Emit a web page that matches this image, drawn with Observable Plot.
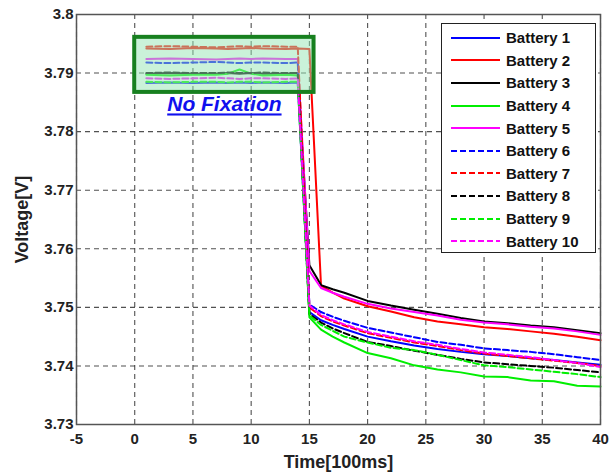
<!DOCTYPE html>
<html>
<head>
<meta charset="utf-8">
<script src="https://cdn.jsdelivr.net/npm/d3@7"></script>
<script src="https://cdn.jsdelivr.net/npm/@observablehq/plot@0.6"></script>
<style>
  body { margin: 0; background: #fff; }
  #wrap { position: relative; width: 613px; height: 472px; font-family: "Liberation Sans", Arial, sans-serif; }
  #legend { position: absolute; left: 441px; top: 23px; width: 155px; height: 230px; box-sizing: border-box;
            border: 1.2px solid #222; background: #fff; }
  .lrow { position: absolute; left: 0; height: 20px; display: flex; align-items: center; }
  .lrow span { font-weight: bold; font-size: 15px; color: #111; margin-left: 6px; }
</style>
</head>
<body>
<div id="wrap"></div>
<script>
// ---- data ----
const batteries = ["Battery 1","Battery 2","Battery 3","Battery 4","Battery 5","Battery 6","Battery 7","Battery 8","Battery 9","Battery 10"];
const colors = ["#0000ff","#ff0000","#000000","#00ee00","#ff00ff","#0000ff","#ff0000","#000000","#00ee00","#ff00ff"];
const dashed = [false,false,false,false,false,true,true,true,true,true];
const times = [1,3,5,7,8,9,10,11,13,14,15,16,17,18,20,22,24,26,28,30,32,34,36,38,40];

const battery1  = [3.7883,3.7884,3.7883,3.7884,3.7883,3.7884,3.7883,3.7884,3.7883,3.7884, 3.7492,3.7478,3.7470,3.7463,3.7450,3.7442,3.7435,3.7429,3.7424,3.7420,3.7417,3.7413,3.7410,3.7406,3.7402];
const battery2  = [3.7942,3.7941,3.7943,3.7942,3.7941,3.7942,3.7943,3.7942,3.7941,3.7942, 3.7941,3.7537,3.7525,3.7515,3.7502,3.7493,3.7483,3.7476,3.7471,3.7466,3.7463,3.7459,3.7455,3.7450,3.7444];
const battery3  = [3.7899,3.7900,3.7899,3.7899,3.7900,3.7899,3.7900,3.7899,3.7899,3.7900, 3.7572,3.7538,3.7531,3.7525,3.7511,3.7503,3.7496,3.7489,3.7482,3.7476,3.7473,3.7469,3.7466,3.7461,3.7456];
const battery4  = [3.7897,3.7896,3.7897,3.7897,3.7899,3.7906,3.7899,3.7896,3.7897,3.7896, 3.7483,3.7462,3.7450,3.7440,3.7422,3.7413,3.7401,3.7394,3.7389,3.7382,3.7381,3.7375,3.7374,3.7366,3.7365];
const battery5  = [3.7924,3.7925,3.7924,3.7923,3.7924,3.7925,3.7924,3.7925,3.7924,3.7924, 3.7562,3.7533,3.7525,3.7518,3.7506,3.7498,3.7492,3.7486,3.7479,3.7474,3.7471,3.7467,3.7464,3.7459,3.7453];
const battery6  = [3.7918,3.7917,3.7918,3.7919,3.7918,3.7917,3.7918,3.7918,3.7917,3.7918, 3.7505,3.7492,3.7484,3.7477,3.7465,3.7457,3.7449,3.7441,3.7436,3.7430,3.7427,3.7424,3.7420,3.7415,3.7410];
const battery7  = [3.7945,3.7946,3.7945,3.7944,3.7945,3.7946,3.7945,3.7946,3.7945,3.7945, 3.7500,3.7485,3.7476,3.7469,3.7456,3.7448,3.7440,3.7434,3.7427,3.7421,3.7417,3.7413,3.7409,3.7405,3.7400];
const battery8  = [3.7900,3.7901,3.7900,3.7900,3.7901,3.7900,3.7900,3.7901,3.7900,3.7900, 3.7489,3.7474,3.7464,3.7456,3.7441,3.7434,3.7426,3.7419,3.7412,3.7406,3.7403,3.7400,3.7397,3.7393,3.7389];
const battery9  = [3.7885,3.7884,3.7885,3.7885,3.7884,3.7885,3.7885,3.7884,3.7885,3.7885, 3.7486,3.7470,3.7460,3.7450,3.7440,3.7431,3.7427,3.7419,3.7410,3.7401,3.7398,3.7394,3.7390,3.7386,3.7381];
const battery10 = [3.7891,3.7890,3.7891,3.7892,3.7891,3.7890,3.7891,3.7891,3.7890,3.7891, 3.7503,3.7487,3.7478,3.7471,3.7458,3.7450,3.7442,3.7436,3.7429,3.7423,3.7419,3.7415,3.7410,3.7405,3.7398];
const series = [battery1,battery2,battery3,battery4,battery5,battery6,battery7,battery8,battery9,battery10];

const xTicks = [-5,0,5,10,15,20,25,30,35,40];
const xTickLabels = ["-5","0","5","10","15","20","25","30","35","40"];
const yTicks = [3.73,3.74,3.75,3.76,3.77,3.78,3.79,3.8];
const yTickLabels = ["3.73","3.74","3.75","3.76","3.77","3.78","3.79","3.8"];

// annotation box (data coordinates) and its label
const boxX = [0, 15.4];
const boxY = [3.7867, 3.7961];
const noteLabel = ["No Fixation"];
const notePos = [7.7, 3.7846];

// ---- build ----
const rows = batteries.map((b, i) => times.map((t, k) => ({battery: b, t, v: series[i][k]})));

const lineMarks = rows.map((r, i) => Plot.line(r, {
  x: "t", y: "v", stroke: colors[i], strokeWidth: 2,
  strokeDasharray: dashed[i] ? "6,3" : null
}));

const chart = Plot.plot({
  width: 613, height: 472,
  marginLeft: 76, marginRight: 13, marginTop: 14, marginBottom: 48,
  style: {fontFamily: "'Liberation Sans', Arial, sans-serif", background: "#fff"},
  x: {domain: [-5, 40]},
  y: {domain: [3.73, 3.8]},
  marks: [
    Plot.gridX(xTicks, {stroke: "#333", strokeOpacity: 0.85, strokeWidth: 1.1, strokeDasharray: "5,4"}),
    Plot.gridY(yTicks, {stroke: "#333", strokeOpacity: 0.85, strokeWidth: 1.1, strokeDasharray: "5,4"}),
    ...lineMarks,
    Plot.rect([{x1: boxX[0], x2: boxX[1], y1: boxY[0], y2: boxY[1]}], {
      x1: "x1", x2: "x2", y1: "y1", y2: "y2",
      fill: "#96e6b4", fillOpacity: 0.5, stroke: "#17801f", strokeWidth: 4
    }),
    Plot.text(noteLabel, {x: () => notePos[0], y: () => notePos[1], text: d => d,
      fill: "#1010ee", fontSize: 21, fontWeight: "bold", fontStyle: "italic"}),
    Plot.frame({stroke: "#555", strokeWidth: 1.5}),
    Plot.axisX(xTicks, {tickSize: 0, tickPadding: 9, fontSize: 15, fontWeight: "bold", fill: "#222", label: null,
      tickFormat: d => xTickLabels[xTicks.indexOf(d)]}),
    Plot.axisY(yTicks, {tickSize: 0, tickPadding: 3, fontSize: 15, fontWeight: "bold", fill: "#222", label: null,
      tickFormat: d => yTickLabels[yTicks.indexOf(d)]}),
    Plot.text(["Time[100ms]"], {frameAnchor: "bottom", dy: 38, fontSize: 18, fontWeight: "bold", fill: "#222",
      textAnchor: "middle", lineAnchor: "middle"}),
    Plot.text(["Voltage[V]"], {frameAnchor: "left", dx: -54, rotate: -90, fontSize: 18, fontWeight: "bold", fill: "#222",
      textAnchor: "middle", lineAnchor: "middle"})
  ]
});

// underline the note
d3.select(chart).selectAll("text").filter(function() { return this.textContent === "No Fixation"; })
  .attr("text-decoration", "underline");

const wrap = document.getElementById("wrap");
wrap.appendChild(chart);

// legend
const legend = document.createElement("div");
legend.id = "legend";
batteries.forEach((b, i) => {
  const row = document.createElement("div");
  row.className = "lrow";
  row.style.top = (13.7 - 10 + i * 22.6) + "px";
  row.style.left = "9px";
  const svg = d3.create("svg").attr("width", 49).attr("height", 20);
  svg.append("line").attr("x1", 0).attr("x2", 49).attr("y1", 10).attr("y2", 10)
    .attr("stroke", colors[i]).attr("stroke-width", 2)
    .attr("stroke-dasharray", dashed[i] ? "6,3" : null);
  row.appendChild(svg.node());
  const s = document.createElement("span");
  s.textContent = b;
  row.appendChild(s);
  legend.appendChild(row);
});
wrap.appendChild(legend);
</script>
</body>
</html>
